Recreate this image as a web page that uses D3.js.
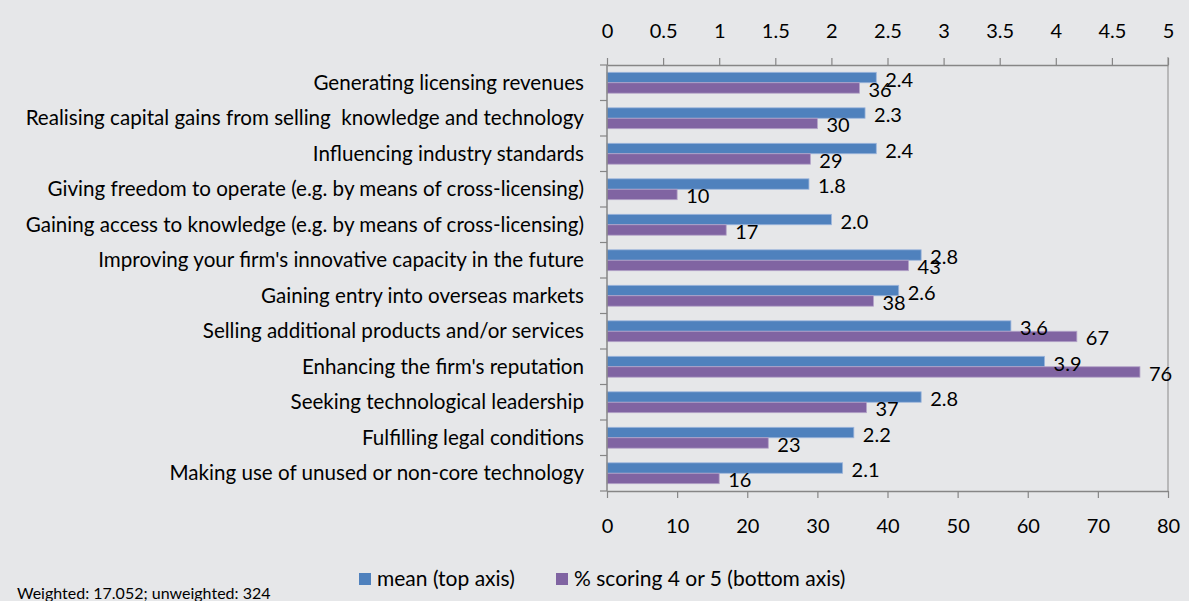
<!DOCTYPE html>
<html>
<head>
<meta charset="utf-8">
<script src="https://cdn.jsdelivr.net/npm/d3@7"></script>
<style>
  html, body { margin: 0; padding: 0; background: #e6e7e9; }
  svg { display: block; }
  text { font-family: Lato, "Open Sans", sans-serif; fill: #000; }
</style>
</head>
<body>
<svg id="chart" width="1189" height="601"></svg>
<script>
// Motives for licensing out / selling technology
const categories = [
  "Generating licensing revenues",
  "Realising capital gains from selling  knowledge and technology",
  "Influencing industry standards",
  "Giving freedom to operate (e.g. by means of cross-licensing)",
  "Gaining access to knowledge (e.g. by means of cross-licensing)",
  "Improving your firm's innovative capacity in the future",
  "Gaining entry into overseas markets",
  "Selling additional products and/or services",
  "Enhancing the firm's reputation",
  "Seeking technological leadership",
  "Fulfilling legal conditions",
  "Making use of unused or non-core technology"
];
const meanValues = [2.4, 2.3, 2.4, 1.8, 2.0, 2.8, 2.6, 3.6, 3.9, 2.8, 2.2, 2.1];
const pctValues = [36, 30, 29, 10, 17, 43, 38, 67, 76, 37, 23, 16];
const meanTicks = [0, 0.5, 1, 1.5, 2, 2.5, 3, 3.5, 4, 4.5, 5];
const pctTicks = [0, 10, 20, 30, 40, 50, 60, 70, 80];
const seriesNames = ["mean (top axis)", "% scoring 4 or 5 (bottom axis)"];
const footnote = "Weighted: 17.052; unweighted: 324";

const colors = { mean: "#4f81bd", pct: "#8064a2" };
const axisColor = "#868686";

const svg = d3.select("#chart");
const plot = { left: 607, right: 1168, top: 65, bottom: 491 };

const xMean = d3.scaleLinear().domain([0, 5]).range([plot.left, plot.right]);
const xPct = d3.scaleLinear().domain([0, 80]).range([plot.left, plot.right]);
const y = d3.scaleBand().domain(categories).range([plot.top, plot.bottom]).padding(0);
const sub = d3.scaleBand().domain(["mean", "pct"]).range([0, y.bandwidth()])
  .paddingInner(0).paddingOuter(0.7);

const rows = categories.map((c, i) => ({ cat: c, mean: meanValues[i], pct: pctValues[i] }));

// right border of the plot area
svg.append("line")
  .attr("x1", plot.right).attr("x2", plot.right)
  .attr("y1", plot.top - 8).attr("y2", plot.bottom)
  .attr("stroke", "#a9a9a9").attr("stroke-width", 1.5);

// bars
const g = svg.append("g");
g.selectAll("rect.mean").data(rows).join("rect")
  .attr("class", "mean")
  .attr("x", xMean(0))
  .attr("y", d => y(d.cat) + sub("mean"))
  .attr("width", d => xMean(d.mean) - xMean(0))
  .attr("height", sub.bandwidth())
  .attr("fill", colors.mean)
  .attr("stroke", "#9db6dc").attr("stroke-width", 0.8);

g.selectAll("rect.pct").data(rows).join("rect")
  .attr("class", "pct")
  .attr("x", xPct(0))
  .attr("y", d => y(d.cat) + sub("pct"))
  .attr("width", d => xPct(d.pct) - xPct(0))
  .attr("height", sub.bandwidth())
  .attr("fill", colors.pct)
  .attr("stroke", "#b3a3c8").attr("stroke-width", 0.8);

// value labels
const labelSize = 20;
g.selectAll("text.meanLbl").data(rows).join("text")
  .attr("class", "meanLbl")
  .attr("x", d => xMean(d.mean) + 9)
  .attr("y", d => y(d.cat) + sub("mean") + sub.bandwidth() / 2 + 9)
  .attr("font-size", labelSize)
  .text(d => d.mean.toFixed(1));

g.selectAll("text.pctLbl").data(rows).join("text")
  .attr("class", "pctLbl")
  .attr("x", d => xPct(d.pct) + 9)
  .attr("y", d => y(d.cat) + sub("pct") + sub.bandwidth() / 2 + 9)
  .attr("font-size", labelSize)
  .text(d => d.pct);

// top axis (mean)
const topAxis = svg.append("g")
  .attr("transform", `translate(0,${plot.top})`)
  .call(d3.axisTop(xMean).tickValues(meanTicks).tickSize(7).tickPadding(20)
    .tickFormat(d => String(d)).tickSizeOuter(0));

// bottom axis (percentage)
const bottomAxis = svg.append("g")
  .attr("transform", `translate(0,${plot.bottom})`)
  .call(d3.axisBottom(xPct).tickValues(pctTicks).tickSize(7).tickPadding(21)
    .tickSizeOuter(0));

[topAxis, bottomAxis].forEach(a => {
  a.select(".domain").attr("stroke", axisColor).attr("stroke-width", 1.5);
  a.selectAll(".tick line").attr("stroke", axisColor).attr("stroke-width", 1.2);
  a.selectAll(".tick text").attr("font-size", 20).attr("font-family", "Lato, sans-serif").attr("fill", "#000");
});

// category axis
const catAxis = svg.append("g");
catAxis.append("line")
  .attr("x1", plot.left).attr("x2", plot.left)
  .attr("y1", plot.top).attr("y2", plot.bottom)
  .attr("stroke", axisColor).attr("stroke-width", 1.5);
const bounds = categories.map(c => y(c)).concat([plot.bottom]);
catAxis.selectAll("line.tick").data(bounds).join("line")
  .attr("class", "tick")
  .attr("x1", plot.left - 7).attr("x2", plot.left)
  .attr("y1", d => d).attr("y2", d => d)
  .attr("stroke", axisColor).attr("stroke-width", 1.2);
catAxis.selectAll("text").data(categories).join("text")
  .attr("x", plot.left - 23)
  .attr("y", d => y(d) + y.bandwidth() / 2)
  .attr("dy", "0.35em")
  .attr("text-anchor", "end")
  .attr("font-size", 20.6)
  .attr("xml:space", "preserve")
  .text(d => d);

// legend
const legend = svg.append("g");
const legendItems = [
  { name: seriesNames[0], color: colors.mean, x: 359 },
  { name: seriesNames[1], color: colors.pct, x: 556 }
];
legendItems.forEach(it => {
  legend.append("rect")
    .attr("x", it.x).attr("y", 573).attr("width", 12).attr("height", 12)
    .attr("fill", it.color);
  legend.append("text")
    .attr("x", it.x + 18).attr("y", 586)
    .attr("font-size", 21).text(it.name);
});

// footnote
svg.append("text")
  .attr("x", 17).attr("y", 599)
  .attr("font-size", 16).text(footnote);
</script>
</body>
</html>
